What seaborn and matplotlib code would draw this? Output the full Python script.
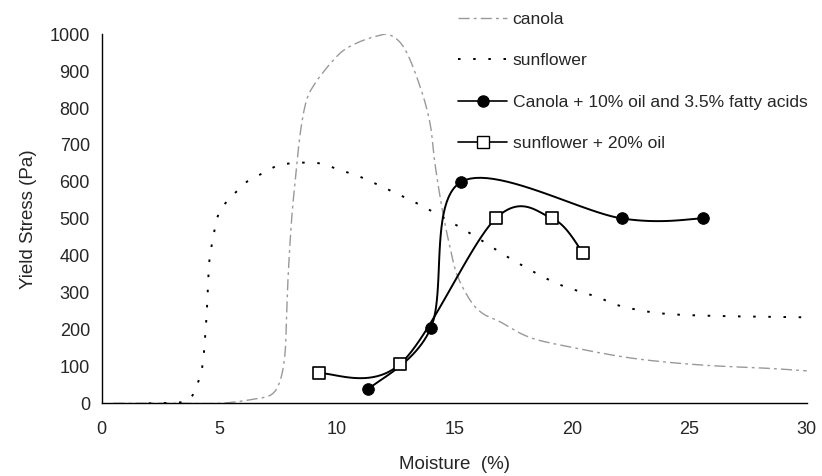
import numpy as np
import seaborn as sns
import matplotlib.pyplot as plt
from matplotlib.lines import Line2D

# canola (grey dashed curve)
canola_x = [0.5, 3.0, 5.0, 6.45, 7.23, 7.6, 7.8, 7.87, 7.94, 8.08, 8.23, 8.45, 8.72, 9.08, 9.5,
            9.93, 10.35, 10.99, 11.7, 12.27, 12.9, 13.55, 13.97, 14.18, 14.47, 14.75, 15.1, 15.67,
            16.2, 16.95, 18.2, 19.9, 22.6, 25.46, 28.3, 30.0]
canola_y = [0, 0, 0, 11, 24, 63, 135, 244, 352, 497, 600, 732, 822, 867, 903,
            935, 959, 980, 995, 998, 960, 858, 759, 650, 533, 443, 352, 280,
            244, 221, 179, 153, 122, 104, 95, 88]

# sunflower (black dotted curve)
sun_x = [2.0, 3.4, 3.83, 4.18, 4.32, 4.39, 4.47, 4.53, 4.6, 4.75, 4.89, 5.1, 5.46, 6.1, 6.31,
         7.09, 7.59, 8.44, 9.29, 10.14, 10.99, 12.13, 13.69, 15.67, 17.5, 19.36, 21.06, 22.06,
         23.76, 26.0, 30.0]
sun_y = [0, 3, 18, 72, 117, 172, 244, 334, 397, 451, 497, 528, 556, 596, 605,
         632, 646, 652, 650, 632, 614, 581, 533, 461, 388, 325, 289, 264,
         244, 237, 233]

# Canola + 10% oil and 3.5% fatty acids
cfa_x = [11.35, 14.0, 15.29, 22.13, 25.6]
cfa_y = [38, 203, 600, 501, 501]

# sunflower + 20% oil
soil_x = [9.26, 12.69, 16.77, 19.17, 20.5]
soil_y = [81, 106, 501, 501, 406]

XMAX, YMAX = 30, 1000


def smooth(xs, ys, n=25):
    # excel-style smoothed line (bezier through the points, in screen proportions)
    sx, sy = 705.0 / XMAX, 369.0 / YMAX
    pts = np.column_stack([np.array(xs) * sx, np.array(ys) * sy])
    out = [pts[0]]
    t = np.linspace(0, 1, n)[1:, None]
    for i in range(len(pts) - 1):
        p0 = pts[i - 1] if i > 0 else pts[i]
        p1, p2 = pts[i], pts[i + 1]
        p3 = pts[i + 2] if i + 2 < len(pts) else pts[i + 1]
        c1 = p1 + (p2 - p0) / 6
        c2 = p2 - (p3 - p1) / 6
        seg = (1 - t) ** 3 * p1 + 3 * (1 - t) ** 2 * t * c1 + 3 * (1 - t) * t ** 2 * c2 + t ** 3 * p2
        out.extend(seg)
    out = np.array(out)
    return out[:, 0] / sx, out[:, 1] / sy


sns.set_style("white")
plt.rcParams['font.family'] = ['Liberation Sans', 'DejaVu Sans']

fig = plt.figure(figsize=(8.22, 4.76), dpi=100)
ax = fig.add_axes([0.1237, 0.1527, 0.8577, 0.7753])

canola_style = (0, (8, 3, 2, 3))
sun_style = (0, (1.3, 6.5))

x, y = smooth(canola_x, canola_y, 8)
sns.lineplot(x=x, y=y, ax=ax, sort=False, estimator=None, color='#999999', lw=1.0, linestyle=canola_style)
x, y = smooth(sun_x, sun_y, 8)
sns.lineplot(x=x, y=y, ax=ax, sort=False, estimator=None, color='black', lw=1.4, linestyle=sun_style)

x, y = smooth(cfa_x, cfa_y)
sns.lineplot(x=x, y=y, ax=ax, sort=False, estimator=None, color='black', lw=1.4)
sns.scatterplot(x=cfa_x, y=cfa_y, ax=ax, color='black', marker='o', s=70, edgecolor='black', zorder=5)

x, y = smooth(soil_x, soil_y)
sns.lineplot(x=x, y=y, ax=ax, sort=False, estimator=None, color='black', lw=1.4)
sns.scatterplot(x=soil_x, y=soil_y, ax=ax, color='white', marker='s', s=80, edgecolor='black',
                linewidth=1.2, zorder=5)

ax.set_xlim(0, XMAX)
ax.set_ylim(0, YMAX)
ax.set_xticks(range(0, 31, 5))
ax.set_yticks(range(0, 1001, 100))
for s in ['top', 'right']:
    ax.spines[s].set_visible(False)
for s in ['left', 'bottom']:
    ax.spines[s].set_color('black')
    ax.spines[s].set_linewidth(1.0)
ax.tick_params(axis='both', direction='inout', length=7, width=1, color='black', labelsize=13)
ax.tick_params(axis='x', pad=9)
ax.tick_params(axis='y', pad=5)
ax.set_xlabel('Moisture  (%)', fontsize=13.5, labelpad=13)
ax.set_ylabel('Yield Stress (Pa)', fontsize=13.5, labelpad=9)

handles = [
    Line2D([], [], color='#999999', lw=1.0, linestyle=canola_style),
    Line2D([], [], color='black', lw=1.4, linestyle=sun_style),
    Line2D([], [], color='black', lw=1.2, marker='o', markersize=8),
    Line2D([], [], color='black', lw=1.2, marker='s', markersize=8, markerfacecolor='white'),
]
labels = ['canola', 'sunflower', 'Canola + 10% oil and 3.5% fatty acids', 'sunflower + 20% oil']
fig.legend(handles, labels, loc='upper left', bbox_to_anchor=(0.547, 0.994), frameon=False,
           fontsize=12.6, handlelength=2.8, handletextpad=0.3, labelspacing=1.5, borderpad=0)

fig.savefig('out.png', dpi=100)
